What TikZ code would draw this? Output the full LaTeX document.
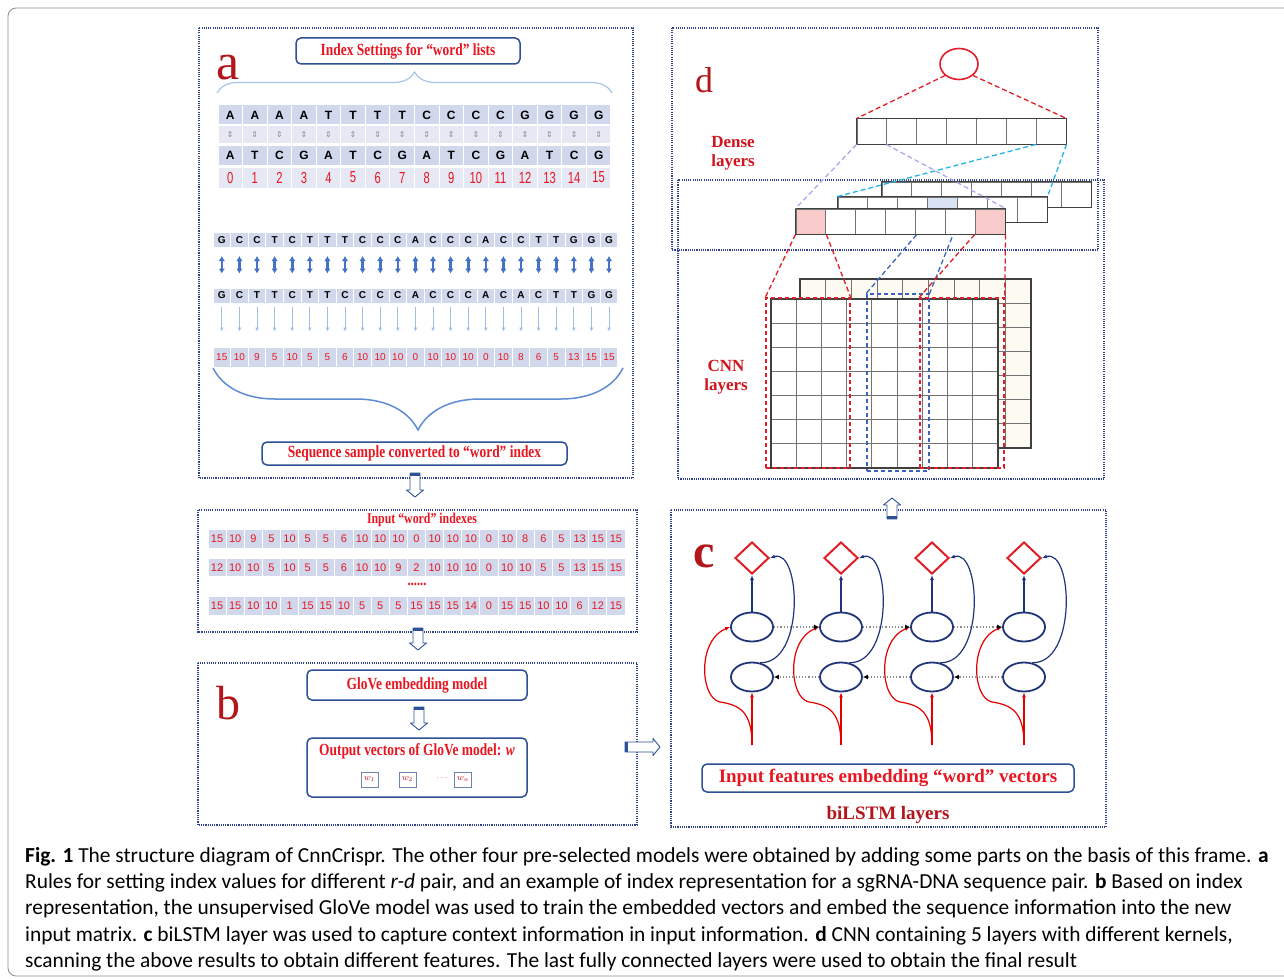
\documentclass[tikz,border=0pt]{standalone}
\usepackage{fontspec}
\setmainfont{Liberation Serif}
\newfontfamily\lblfont[FakeStretch=0.79]{Liberation Serif}
\newfontfamily\seqfont{Liberation Sans}
\newfontfamily\numfont[FakeStretch=0.7]{Liberation Sans}
\newfontfamily\capfont{Carlito}
\newfontfamily\symfont{DejaVu Sans}
\usepackage{xcolor}
\usepackage{tikz}
\usetikzlibrary{shapes.geometric, arrows.meta, positioning, decorations.pathreplacing}

\definecolor{framenavy}{RGB}{48,66,140}
\definecolor{boxnavy}{RGB}{46,80,150}
\definecolor{lblred}{RGB}{232,22,32}
\definecolor{darkred}{RGB}{178,22,26}
\definecolor{cellA}{RGB}{210,216,236}
\definecolor{cellB}{RGB}{230,233,244}
\definecolor{bracelight}{RGB}{165,198,232}
\definecolor{bracemid}{RGB}{95,140,210}
\definecolor{arrblue}{RGB}{68,114,196}
\definecolor{arrlight}{RGB}{160,190,232}
\definecolor{lavender}{RGB}{170,170,238}
\definecolor{cyanline}{RGB}{35,180,230}
\definecolor{pinkcell}{RGB}{249,202,202}
\definecolor{bluecell}{RGB}{218,227,243}
\definecolor{cream}{RGB}{253,250,241}
\definecolor{lstmnavy}{RGB}{32,52,122}
\definecolor{kernred}{RGB}{225,30,40}
\definecolor{kernblue}{RGB}{60,100,190}

\tikzset{pics/hollowarrow/.style={code={
  \draw[boxnavy, line width=0.9pt, fill=white, line join=round] (0,-5) -- ({#1-7},-5) -- ({#1-7},-8.5) -- (#1,0) -- ({#1-7},8.5) -- ({#1-7},5) -- (0,5) -- cycle;
  \fill[boxnavy] (0,-5) rectangle (3,5);
}}}

\begin{document}
\begin{tikzpicture}[x=1pt, y=-1pt,
    frame/.style={draw=framenavy, line width=1.6pt, dash pattern=on 1.1pt off 1.1pt},
    titlebox/.style={draw=boxnavy, line width=1.5pt, rounded corners=5pt, fill=white, inner sep=0pt},
    lbl/.style={font=\lblfont\bfseries\fontsize{17}{20}\selectfont, text=lblred},
    panlet/.style={text=darkred, inner sep=0pt},
    cell/.style={draw=white, line width=1pt, inner sep=0pt},
    idxcell/.style={cell, minimum width=24.56pt},
    seqcell/.style={cell, fill=cellA, minimum width=17.6pt, minimum height=15pt, font=\seqfont\bfseries\fontsize{10}{10}\selectfont},
    inpcell/.style={cell, fill=cellA, minimum width=18.13pt, minimum height=18.5pt, text=lblred, font=\seqfont\fontsize{11}{11}\selectfont},
    pair/.style={arrblue, line width=2.6pt, {Latex[length=5pt,width=6.5pt]}-{Latex[length=5pt,width=6.5pt]}, shorten <=8pt, shorten >=14pt},
    map/.style={arrlight, line width=1pt, -{Latex[length=4pt,width=4pt]}, shorten <=3pt, shorten >=15pt},
    dcell/.style={draw=black!55, line width=1pt, minimum width=29.86pt, minimum height=25pt, inner sep=0pt},
    gridline/.style={draw=black!55, line width=1pt},
    kernel/.style={draw=kernred, line width=1.4pt, dash pattern=on 4pt off 3pt, inner sep=0pt},
    reddash/.style={kernred, line width=1.3pt, dash pattern=on 5pt off 3pt},
    lavdash/.style={lavender, line width=1.3pt, dash pattern=on 5pt off 3pt},
    cyandash/.style={cyanline, line width=1.3pt, dash pattern=on 5pt off 3pt},
    bluedash/.style={kernblue, line width=1.3pt, dash pattern=on 5pt off 3pt},
    dia/.style={diamond, draw=kernred, line width=2pt, minimum width=34pt, minimum height=32pt, inner sep=0pt},
    lstm/.style={ellipse, draw=lstmnavy, line width=1.8pt, minimum width=42pt, minimum height=29pt, inner sep=0pt},
    navyarr/.style={lstmnavy, line width=1.2pt, -{Latex[length=5pt,width=4pt]}},
    redarr/.style={red!90!black, line width=1.2pt, -{Latex[length=5pt,width=4pt]}},
    dotarr/.style={black!45, line width=1.2pt, dotted, -{Latex[length=5pt,width=5pt,color=black]}},
    wbox/.style={draw=boxnavy!70, line width=0.8pt, minimum width=17pt, minimum height=15pt, inner sep=0pt, text=lblred!80!black, font=\fontsize{9}{9}\selectfont}]
\useasboundingbox (0,0) rectangle (1284,979);
\fill[white] (0,0) rectangle (1284,979);
\draw[black!45, line width=0.8pt, rounded corners=8pt] (8,8) rectangle (1300,976);

\draw[frame] (199,28) rectangle (633,478);
\draw[frame] (198,510) rectangle (637,632);
\draw[frame] (198,663) rectangle (637,825);
\draw[frame] (672,28) rectangle (1098,250);
\draw[frame] (678,180) rectangle (1104,479);
\draw[frame] (671,510) rectangle (1106,827);

\node[panlet, font=\fontsize{52}{52}\selectfont] (pa) at (228,67.5) {a};
\node[titlebox, lbl, minimum width=224pt, minimum height=26pt] (idxset) at (408,51) {Index Settings for “word” lists};
\coordinate (tbl) at (217,93);
\coordinate (tbr) at (612,93);
\draw[bracelight, line width=1.2pt, decorate, decoration={brace, amplitude=21pt}] (tbl) -- (tbr);

\foreach \u [count=\i from 0] in {A,A,A,A,T,T,T,T,C,C,C,C,G,G,G,G}
  \node[idxcell, fill=cellA, minimum height=20pt, font=\seqfont\bfseries\fontsize{12}{12}\selectfont] (ru\i) at ({230.28+24.56*\i},115) {\u};
\foreach \i in {0,...,15}
  \node[idxcell, fill=cellB, minimum height=17pt, text=black!45, font=\symfont\fontsize{8}{8}\selectfont] (rm\i) at ({230.28+24.56*\i},134.5) {⇕};
\foreach \u [count=\i from 0] in {A,T,C,G,A,T,C,G,A,T,C,G,A,T,C,G}
  \node[idxcell, fill=cellA, minimum height=20pt, font=\seqfont\bfseries\fontsize{12}{12}\selectfont] (rd\i) at ({230.28+24.56*\i},155) {\u};
\foreach \i in {0,...,15}
  \node[idxcell, fill=cellB, minimum height=21pt, text=lblred, font=\numfont\fontsize{16}{16}\selectfont] (rn\i) at ({230.28+24.56*\i},177.5) {\i};

\foreach \u [count=\i from 0] in {G,C,C,T,C,T,T,T,C,C,C,A,C,C,C,A,C,C,T,T,G,G,G}
  \node[seqcell] (sa\i) at ({221.8+17.6*\i},240) {\u};
\foreach \u [count=\i from 0] in {G,C,T,T,C,T,T,C,C,C,C,A,C,C,C,A,C,A,C,T,T,G,G}
  \node[seqcell] (sb\i) at ({221.8+17.6*\i},295.5) {\u};
\foreach \n [count=\i from 0] in {15,10,9,5,10,5,5,6,10,10,10,0,10,10,10,0,10,8,6,5,13,15,15}
  \node[seqcell, minimum height=20pt, text=lblred, font=\seqfont\fontsize{10}{10}\selectfont] (sn\i) at ({221.8+17.6*\i},357) {\n};
\foreach \i in {0,...,22} {
  \draw[pair] (sa\i) -- (sb\i);
  \draw[map] (sb\i) -- (sn\i);
}
\coordinate (bbl) at (213,368);
\coordinate (bbr) at (623,368);
\draw[bracemid, line width=1.5pt, decorate, decoration={brace, amplitude=62pt, mirror}] (bbl) -- (bbr);
\node[titlebox, lbl, minimum width=305pt, minimum height=23pt] (seqconv) at (414.5,453.5) {Sequence sample converted to “word” index};

\node[lbl, font=\lblfont\bfseries\fontsize{15}{16}\selectfont] (inptitle) at (422,520) {Input “word” indexes};
\foreach \n [count=\i from 0] in {15,10,9,5,10,5,5,6,10,10,10,0,10,10,10,0,10,8,6,5,13,15,15}
  \node[inpcell] (ia\i) at ({217.07+18.13*\i},539) {\n};
\foreach \n [count=\i from 0] in {12,10,10,5,10,5,5,6,10,10,9,2,10,10,10,0,10,10,5,5,13,15,15}
  \node[inpcell] (ib\i) at ({217.07+18.13*\i},567.5) {\n};
\node[lbl, font=\lblfont\bfseries\fontsize{16}{16}\selectfont] (inpdots) at (417,584) {......};
\foreach \n [count=\i from 0] in {15,15,10,10,1,15,15,10,5,5,5,15,15,15,14,0,15,15,10,10,6,12,15}
  \node[inpcell] (ic\i) at ({217.07+18.13*\i},606) {\n};

\node[panlet, font=\fontsize{48}{48}\selectfont] (pb) at (228,703.5) {b};
\node[titlebox, lbl, minimum width=220pt, minimum height=30pt] (glove) at (417,685) {GloVe embedding model};
\node[titlebox, minimum width=220pt, minimum height=59pt] (gloveout) at (417,767.5) {};
\node[lbl] (outtitle) at (417,751) {Output vectors of GloVe model: \textit{w}};
\node[wbox] (w1) at (369.5,779.5) {$w_1$};
\node[wbox] (w2) at (407.5,779.5) {$w_2$};
\node[text=lblred!80!black, font=\fontsize{9}{9}\selectfont] (wdots) at (442,778) {$\cdots$};
\node[wbox] (wn) at (463,779.5) {$w_n$};

\pic[rotate=-90] (harr1) at (415,473) {hollowarrow=24};
\pic[rotate=-90] (harr2) at (418,628) {hollowarrow=22};
\pic[rotate=-90] (harr3) at (419,707) {hollowarrow=23};
\pic (harr4) at (625,747) {hollowarrow=35};
\pic[rotate=90] (harr5) at (892,519) {hollowarrow=21};

\node[panlet, font=\fontsize{36}{36}\selectfont] (pd) at (704,80) {d};
\node[ellipse, draw=kernred, line width=1.6pt, minimum width=38pt, minimum height=31pt, inner sep=0pt] (outc) at (959,64) {};
\node[font=\bfseries\fontsize{17}{19}\selectfont, text=lblred!90!black, align=center] (dense) at (733,153) {Dense\\layers};
\node[font=\bfseries\fontsize{17}{19}\selectfont, text=lblred!90!black, align=center] (cnn) at (726,377) {CNN\\layers};

\fill[cream] (800,279) rectangle (1031,448);
\foreach \c in {1,...,8} \draw[gridline] ({800+25.67*\c},279) -- ++(0,169);
\foreach \r in {1,...,6} \draw[gridline] (800,{279+24.14*\r}) -- ++(231,0);
\draw[line width=1.6pt, black!75] (800,279) rectangle (1031,448);
\fill[white] (771,299) rectangle (998,468);
\foreach \c in {1,...,8} \draw[gridline] ({771+25.22*\c},299) -- ++(0,169);
\foreach \r in {1,...,6} \draw[gridline] (771,{299+24.14*\r}) -- ++(227,0);
\draw[line width=1.6pt, black!75] (771,299) rectangle (998,468);

\foreach \i in {0,...,6} \node[dcell, fill=white] (dt\i) at ({871.93+29.86*\i},131.5) {};
\draw[line width=1.6pt, black!75] (dt0.north west) rectangle (dt6.south east);
\foreach \i in {0,...,6} \node[dcell, fill=white] (db\i) at ({896.93+29.86*\i},194.5) {};
\draw[line width=1.6pt, black!75] (db0.north west) rectangle (db6.south east);
\foreach \i/\c in {0/white,1/white,2/white,3/bluecell,4/white,5/white,6/white}
  \node[dcell, fill=\c] (dm\i) at ({852.93+29.86*\i},209.5) {};
\draw[line width=1.6pt, black!75] (dm0.north west) rectangle (dm6.south east);

\node[kernel, draw=kernblue, minimum width=62pt, minimum height=177pt] (kb) at (898,382.5) {};
\draw[bluedash] (dm3.south west) -- (kb.north west);
\draw[bluedash] (dm3.south east) -- (kb.north east);

\foreach \i/\c in {0/pinkcell,1/white,2/white,3/white,4/white,5/white,6/pinkcell}
  \node[dcell, fill=\c] (df\i) at ({810.93+29.86*\i},221.5) {};
\draw[line width=1.6pt, black!75] (df0.north west) rectangle (df6.south east);

\node[kernel, minimum width=84pt, minimum height=170pt] (kl) at (808,383) {};
\node[kernel, minimum width=84pt, minimum height=170pt] (kr) at (962,383) {};

\draw[reddash] (outc.south west) -- (dt0.north west);
\draw[reddash] (outc.south east) -- (dt6.north east);
\draw[lavdash] (dt0.south west) -- (df0.north west);
\draw[lavdash] (dt1.south west) -- (df6.north east);
\draw[cyandash] (dt6.south west) -- (dm0.north west);
\draw[cyandash] (dt6.south east) -- (dm6.north east);
\draw[reddash] (df0.south west) -- (kl.north west);
\draw[reddash] (df0.south east) -- (kl.north east);
\draw[reddash] (df6.south west) -- (kr.north west);
\draw[reddash] (df6.south east) -- (kr.north east);

\node[panlet, font=\bfseries\fontsize{48}{48}\selectfont] (pc) at (704,556) {c};
\foreach \x [count=\i] in {752,841,932,1024} {
  \node[dia] (dia\i) at (\x,558) {};
  \node[lstm] (fw\i) at (\x,627) {};
  \node[lstm] (bw\i) at (\x,677) {};
  \coordinate (in\i) at (\x,745);
  \draw[navyarr] (fw\i) -- (dia\i);
  \draw[navyarr] (bw\i.60) .. controls +(45,1) and +(31,-10) .. (dia\i.east);
  \draw[redarr] (in\i) -- (bw\i);
  \draw[redarr] (in\i) .. controls +(0,-33) and +(20,3) .. ({\x-32},702) .. controls +(-20,-4) and +(-33,13) .. (fw\i.west);
}
\foreach \i/\j in {1/2,2/3,3/4} {
  \draw[dotarr] (fw\i) -- (fw\j);
  \draw[dotarr] (bw\j) -- (bw\i);
}
\node[titlebox, font=\bfseries\fontsize{19}{22}\selectfont, text=lblred, minimum width=372pt, minimum height=28pt] (inbox) at (888,778) {Input features embedding “word” vectors};
\node[font=\bfseries\fontsize{19}{22}\selectfont, text=darkred] (bilstm) at (888,815) {biLSTM layers};

\node[anchor=north west, align=left, inner sep=0pt, font=\capfont\fontsize{21.4}{26.3}\selectfont] (caption) at (25,847) {\textbf{Fig. 1} The structure diagram of CnnCrispr. The other four pre-selected models were obtained by adding some parts on the basis of this frame. \textbf{a}\\
Rules for setting index values for different \textit{r-d} pair, and an example of index representation for a sgRNA-DNA sequence pair. \textbf{b} Based on index\\
representation, the unsupervised GloVe model was used to train the embedded vectors and embed the sequence information into the new\\
input matrix. \textbf{c} biLSTM layer was used to capture context information in input information. \textbf{d} CNN containing 5 layers with different kernels,\\
scanning the above results to obtain different features. The last fully connected layers were used to obtain the final result};
\end{tikzpicture}
\end{document}
